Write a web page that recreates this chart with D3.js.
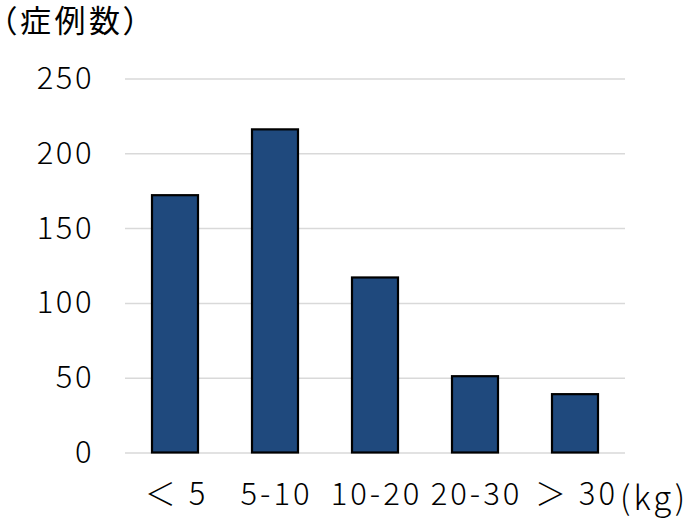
<!DOCTYPE html>
<html><head><meta charset="utf-8">
<script src="https://cdn.jsdelivr.net/npm/d3@7"></script>
<style>body{margin:0;background:#fff}svg{display:block}</style>
</head><body>
<script>
const categories = ["＜ 5", "5-10", "10-20", "20-30", "＞ 30"];
const values = [172, 216, 117, 51, 39];
const yTicks = [0, 50, 100, 150, 200, 250];
const yTitle = "（症例数）";
const xUnit = "(kg)";

const W = 690, H = 528;
const font = "'Noto Sans CJK JP', 'Noto Sans', sans-serif";
const svg = d3.select("body").append("svg").attr("width", W).attr("height", H);
const m = {left: 125, right: 65, top: 78.5, bottom: 75.5};
const x = d3.scaleBand().domain(categories).range([m.left, W - m.right]).paddingInner(0.54).paddingOuter(0.27);
const y = d3.scaleLinear().domain([0, 250]).range([H - m.bottom, m.top]);

const grid = svg.append("g").attr("transform", `translate(${m.left},0)`)
  .call(d3.axisLeft(y).tickValues(yTicks).tickSize(-(W - m.right - m.left)).tickFormat(d => d).tickPadding(31));
grid.select(".domain").remove();
grid.selectAll(".tick line").attr("stroke", "#d9d9d9").attr("stroke-width", 1.5);
grid.selectAll(".tick text").attr("font-family", font).attr("font-size", 31).attr("font-weight", 300)
  .attr("letter-spacing", 2.5).attr("fill", "#000");

svg.append("g").selectAll("rect").data(values).join("rect")
  .attr("x", (d, i) => x(categories[i]))
  .attr("y", d => y(d))
  .attr("width", x.bandwidth())
  .attr("height", d => y(0) - y(d))
  .attr("fill", "#1f497d").attr("stroke", "#000").attr("stroke-width", 2.2);

const xa = svg.append("g").attr("transform", `translate(1.5,${y(0)})`)
  .call(d3.axisBottom(x).tickSize(0).tickPadding(30));
xa.select(".domain").remove();
xa.selectAll(".tick text").attr("font-family", font).attr("font-size", 31).attr("font-weight", 300)
  .attr("letter-spacing", 3).attr("fill", "#000");

svg.append("text").attr("x", 1).attr("y", 32).attr("font-family", font).attr("font-size", 31).attr("font-weight", 400)
  .style("font-feature-settings", "'palt'").attr("letter-spacing", 3.5).text(yTitle);
svg.append("text").attr("x", 620).attr("y", 510).attr("font-family", font).attr("font-size", 33).attr("font-weight", 300)
  .attr("letter-spacing", 3).text(xUnit);
</script>
</body></html>
